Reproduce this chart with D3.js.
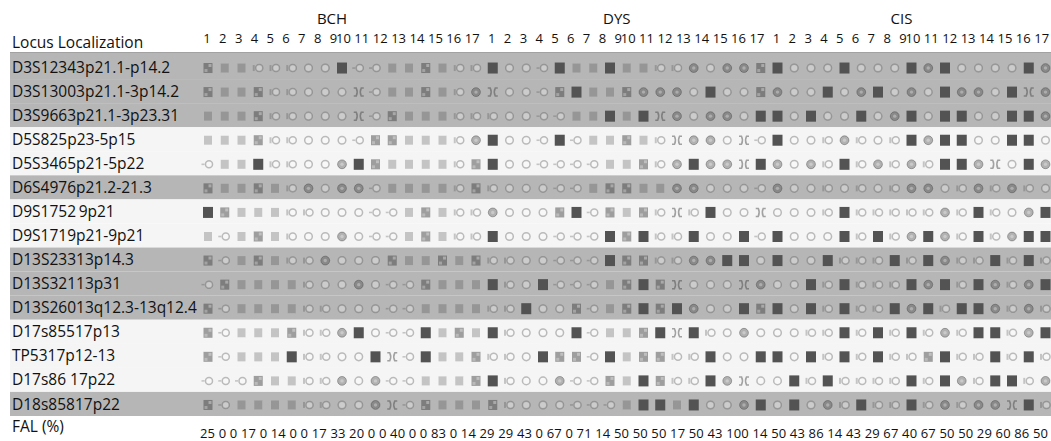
<!DOCTYPE html>
<html>
<head>
<meta charset="utf-8">
<script src="https://cdn.jsdelivr.net/npm/d3@7"></script>
<style>
    body { margin: 0; background: #fff; }
    svg { display: block; font-family: "Open Sans", "Noto Sans", sans-serif; }
</style>
</head>
<body>
<div id="chart"></div>
<script>
// study groups and case numbers (column headers)
const groups = ["BCH", "DYS", "CIS"];
const caseNumbers = [1, 2, 3, 4, 5, 6, 7, 8, 9, 10, 11, 12, 13, 14, 15, 16, 17];

// loci (row labels) and the chromosome each belongs to
const loci = [
    "D3S12343p21.1-p14.2",
    "D3S13003p21.1-3p14.2",
    "D3S9663p21.1-3p23.31",
    "D5S825p23-5p15",
    "D5S3465p21-5p22",
    "D6S4976p21.2-21.3",
    "D9S1752\u20099p21",
    "D9S1719p21-9p21",
    "D13S23313p14.3",
    "D13S32113p31",
    "D13S26013q12.3-13q12.4",
    "D17s85517p13",
    "TP5317p12-13",
    "D17s86 17p22",
    "D18s85817p22"
];
const chromosomes = [3, 3, 3, 5, 5, 6, 9, 9, 13, 13, 13, 17, 17, 17, 18];

// one character per case: L = LOH (dark square), S = light square, P = mottled square,
// O = open circle, C = bar + circle, D = dash + circle, Q = mottled circle, X = shift
const calls = [
    "PSSCCCOOLDDSSPSCCLOODLSSL" + "SSCCQOQQPLOOOLOOOLQLOOOOLQ",
    "PSSPCCOOOXDSSPSCQXOODPLSS" + "PQQQOLOOPQOOLOQLOQOLQQOLXQ",
    "SSSPCCOOOXDPSSSCCCOODDSSL" + "SLXQOQQOLLOLOOLOQLOLLOOLLQ",
    "SSSPCCOOODPPSSSCQLOODLDSS" + "PSCXQQOXDLOOCQCOCLQLLOOLLO",
    "DSSLCCOOQLPSSSSCPLOODDDDS" + "SPCQLQQXLQOQCLCQCQCLLQXOLQ",
    "PSSPSCQOQQDSSSSCPCOOODDSP" + "PSSQQOOODQOOCOCOCQQOCQCQCO",
    "LPSSSCCOOODDSPSCCQOOOPLDP" + "SPCXCLOOXOOOCLCCCCCQCLCOQL",
    "SDSPSCOOQODDSPSCCLOOODDDL" + "PLCCLOOLDLOOOLCLCQLQCLCQLL",
    "PDSPSCCQOOOPSSPSPCCOODDDL" + "PPCCQQLLOLOOLCCCLCLQCCLCLC",
    "DPSSSSCOOQODDPSSSLCOLDDDS" + "PLPXOOOXQOOLCLCCCLQLCLQCQL",
    "PDSSSSCCOOODDSSSSCCLOOPDS" + "PLPLQOOLPLOLCLCCLQLCLLQCQC",
    "PDSSSPCCQLODDLSPSLCOOOLDS" + "SPLXLCOQOOOCCLCLCLCQCLLCQL",
    "PDSSSLCCOOLXDLSSPCCOLPPDL" + "SPPCCLOOLLOLCLCLCCPLCCLCLC",
    "DDDPSSCCQOQDDSSSPLCOOQDDP" + "SLPCCLQXOOLCLCCCCLCLQCLLCQ",
    "PDSSSSCCOOQXDPSSSPCOOODDD" + "SLLSLOOQLOLOQCLCCLCQCQQXLC"
];

// fractional allelic loss per case, as printed
const falValues = [25, 0, 0, 17, 0, 14, 0, 0, 17, 33, 20, 0, 0, 40, 0, 0, 83, 0, 14, 29, 29, 43, 0, 67, 0,
    71, 14, 50, 50, 50, 17, 50, 43, 100, 14, 50, 43, 86, 14, 43, 29, 67, 40, 67, 50, 50, 29, 60, 86, 50];

const width = 1051, height = 441;

const svg = d3.select("#chart").append("svg")
    .attr("width", width)
    .attr("height", height);

svg.append("defs").append("filter")
    .attr("id", "scan")
    .append("feGaussianBlur")
    .attr("stdDeviation", 0.5);

const columns = groups.flatMap(g => caseNumbers.map(n => g + n));

const xScale = d3.scalePoint()
    .domain(columns)
    .range([208, 1045.5]);

const yScale = d3.scaleBand()
    .domain(d3.range(loci.length))
    .range([55, 416]);

const chrOrder = Array.from(new Set(chromosomes));
const shaded = i => chrOrder.indexOf(chromosomes[i]) % 2 === 0;

// row bands
svg.append("g").selectAll("rect")
    .data(loci)
    .join("rect")
    .attr("x", 10)
    .attr("y", (d, i) => yScale(i) - (i === 0 ? 2 : 0))
    .attr("width", width - 10)
    .attr("height", (d, i) => yScale.bandwidth() + (i === 0 ? 2 : 0))
    .attr("fill", (d, i) => shaded(i) ? "#b6b6b6" : "#f5f5f5");

// thin rule along the top of the first band
svg.append("line")
    .attr("x1", 10).attr("x2", width)
    .attr("y1", yScale(0) - 2.5).attr("y2", yScale(0) - 2.5)
    .attr("stroke", "#a2a2a2");

// row labels
svg.append("g").selectAll("text")
    .data(loci)
    .join("text")
    .attr("x", 12)
    .attr("y", (d, i) => yScale(i) + yScale.bandwidth() / 2)
    .attr("dy", "0.36em")
    .attr("font-size", 15.5)
    .attr("fill", "#111")
    .text(d => d);

// header
svg.append("text")
    .attr("x", 12).attr("y", 48)
    .attr("font-size", 15.5)
    .attr("fill", "#111")
    .text("Locus Localization");

groups.forEach(g => {
    const first = xScale(g + caseNumbers[0]);
    const last = xScale(g + caseNumbers[caseNumbers.length - 1]);
    svg.append("text")
        .attr("x", (first + last) / 2 - 10)
        .attr("y", 24)
        .attr("text-anchor", "middle")
        .attr("font-size", 15)
        .attr("fill", "#111")
        .text(g);

    svg.append("g").selectAll("text")
        .data(caseNumbers)
        .join("text")
        .attr("x", k => first - 1 + (k <= 9 ? (k - 1) * 15.8 : 8 * 15.8 + 10 + (k - 10) * 18.4))
        .attr("y", 43)
        .attr("text-anchor", "middle")
        .attr("font-size", 13)
        .attr("fill", "#111")
        .text(k => k);
});

// glyphs
const light = "rgba(70,70,70,0.27)";
const ring = "rgba(70,70,70,0.34)";
function drawGlyph(g, code) {
    if (code === "L") {
        g.append("rect").attr("x", -5).attr("y", -5.5).attr("width", 10).attr("height", 11)
            .attr("fill", "#525252");
    } else if (code === "S") {
        g.append("rect").attr("x", -4).attr("y", -4.5).attr("width", 8).attr("height", 9)
            .attr("fill", light);
    } else if (code === "P") {
        g.append("rect").attr("x", -4.5).attr("y", -5).attr("width", 9).attr("height", 10)
            .attr("fill", "rgba(60,60,60,0.48)");
        g.append("rect").attr("x", 0.5).attr("y", -4).attr("width", 3).attr("height", 3)
            .attr("fill", "rgba(255,255,255,0.35)");
        g.append("rect").attr("x", -3.5).attr("y", 1).attr("width", 3).attr("height", 3)
            .attr("fill", "rgba(255,255,255,0.3)");
    } else if (code === "O") {
        g.append("circle").attr("r", 3.8)
            .attr("fill", "rgba(255,255,255,0.3)")
            .attr("stroke", ring).attr("stroke-width", 1.5);
    } else if (code === "C") {
        g.append("rect").attr("x", -5.5).attr("y", -3).attr("width", 2).attr("height", 6)
            .attr("fill", light);
        g.append("circle").attr("cx", 1).attr("r", 3.5)
            .attr("fill", "rgba(255,255,255,0.3)")
            .attr("stroke", ring).attr("stroke-width", 1.5);
    } else if (code === "D") {
        g.append("rect").attr("x", -6.5).attr("y", -0.8).attr("width", 3).attr("height", 1.6)
            .attr("fill", light);
        g.append("circle").attr("cx", 1).attr("r", 3.5)
            .attr("fill", "rgba(255,255,255,0.3)")
            .attr("stroke", ring).attr("stroke-width", 1.5);
    } else if (code === "Q") {
        g.append("circle").attr("r", 4.4)
            .attr("fill", "rgba(60,60,60,0.36)")
            .attr("stroke", "rgba(60,60,60,0.4)").attr("stroke-width", 1);
        g.append("circle").attr("r", 1.7)
            .attr("fill", "rgba(255,255,255,0.3)");
    } else if (code === "X") {
        g.append("path")
            .attr("d", "M-5,-4H-2.5Q-0.5,0,-2.5,4H-5M5,-4H2.5Q0.5,0,2.5,4H5")
            .attr("fill", "none")
            .attr("stroke", "rgba(60,60,60,0.45)").attr("stroke-width", 1.5);
    }
}

const marks = svg.append("g").attr("filter", "url(#scan)");
calls.forEach((row, i) => {
    marks.append("g").selectAll("g")
        .data(row.split("").map((code, j) => ({code, col: columns[j]})))
        .join("g")
        .attr("transform", d => `translate(${xScale(d.col)},${yScale(i) + yScale.bandwidth() / 2 + 1})`)
        .each(function(d) { drawGlyph(d3.select(this), d.code); });
});

// FAL row
svg.append("text")
    .attr("x", 12).attr("y", 432)
    .attr("font-size", 15.5)
    .attr("fill", "#111")
    .text("FAL (%)");

svg.append("text")
    .attr("x", 200).attr("y", 438)
    .attr("font-size", 13)
    .attr("fill", "#111")
    .attr("textLength", 848)
    .attr("lengthAdjust", "spacing")
    .text(falValues.join(" "));
</script>
</body>
</html>
